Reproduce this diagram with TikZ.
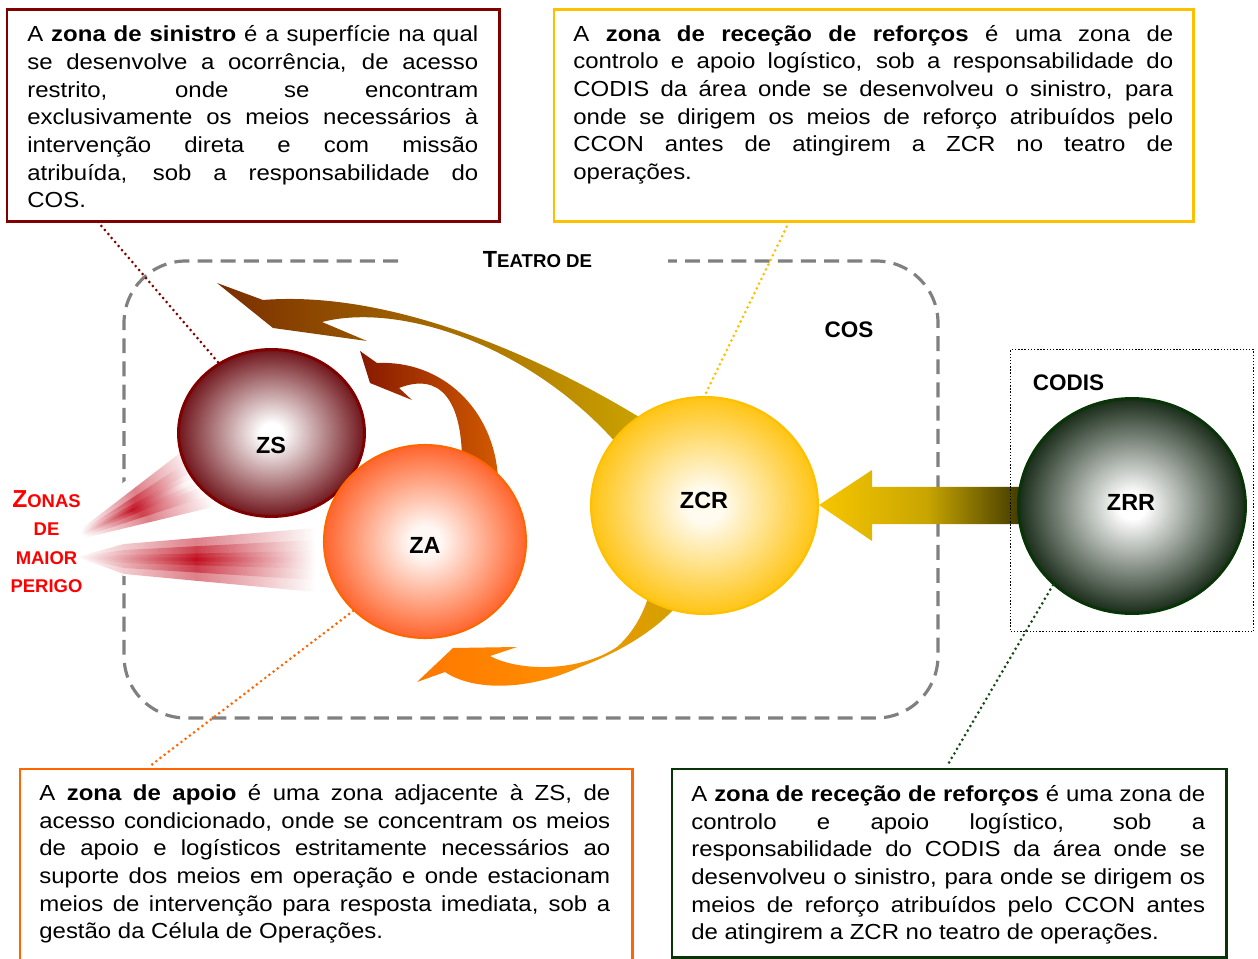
\documentclass[tikz,border=0pt]{standalone}
\usepackage{fontspec}
\setmainfont{Liberation Sans}
\newfontfamily\bodyfont[FakeStretch=1.1]{Liberation Sans}
\usetikzlibrary{shapes.geometric}

\definecolor{zsred}{RGB}{128,0,0}
\definecolor{zsedge}{RGB}{112,22,28}
\definecolor{zaorange}{RGB}{255,102,0}
\definecolor{zaedge}{RGB}{255,100,45}
\definecolor{zaheart}{RGB}{255,247,243}
\definecolor{zcryellow}{RGB}{255,192,0}
\definecolor{zcredge}{RGB}{255,196,20}
\definecolor{zcrheart}{RGB}{255,251,238}
\definecolor{zrrgreen}{RGB}{8,52,8}
\definecolor{zrredge}{RGB}{26,44,26}
\definecolor{theatregrey}{RGB}{128,128,128}
\definecolor{dangerred}{RGB}{255,0,0}
\definecolor{wedgered}{RGB}{190,0,18}
\definecolor{olivebrown}{RGB}{205,165,0}
\definecolor{bigtip}{RGB}{122,45,0}
\definecolor{smalltip}{RGB}{135,25,0}
\definecolor{smalltail}{RGB}{210,90,0}
\definecolor{loworange}{RGB}{255,120,0}
\definecolor{loworangeb}{RGB}{255,140,0}
\definecolor{flowyellow}{RGB}{247,198,0}
\definecolor{flowmid}{RGB}{200,165,0}
\definecolor{flowdark}{RGB}{45,42,0}
\definecolor{leadgreen}{RGB}{20,75,20}

\pgfdeclareradialshading{zsball}{\pgfpoint{0bp}{0bp}}{color(0bp)=(white); color(3bp)=(white); color(25bp)=(zsedge); color(50bp)=(zsedge)}
\pgfdeclareradialshading{zaball}{\pgfpoint{0bp}{0bp}}{color(0bp)=(zaheart); color(4bp)=(zaheart); color(25bp)=(zaedge); color(50bp)=(zaedge)}
\pgfdeclareradialshading{zcrball}{\pgfpoint{0bp}{0bp}}{color(0bp)=(zcrheart); color(4bp)=(zcrheart); color(25bp)=(zcredge); color(50bp)=(zcredge)}
\pgfdeclareradialshading{zrrball}{\pgfpoint{0bp}{0bp}}{color(0bp)=(white); color(3bp)=(white); color(25bp)=(zrredge); color(50bp)=(zrredge)}

\newcommand{\topstrut}{\rule{0pt}{12pt}}
\hyphenpenalty=10000
\exhyphenpenalty=10000
\tolerance=10000
\setlength{\parindent}{0pt}

\begin{document}
\begin{tikzpicture}[x=0.02cm, y=-0.02cm,
  zone/.style={ellipse, shade, inner sep=0pt},
  zonename/.style={font=\fontsize{13.3}{13.3}\selectfont\bfseries},
  tag/.style={font=\fontsize{12.8}{12.8}\selectfont\bfseries},
  frame/.style={rectangle, draw, line width=1.7pt, anchor=north west, inner sep=0pt},
  blurb/.style={anchor=north west, inner sep=0pt, align=justify, font=\bodyfont\fontsize{12.4}{15.75}\selectfont},
  leader/.style={line width=1.7pt, dash pattern=on 0pt off 3pt, line cap=round},
  dangerwedge/.style={left color=white, right color=white, middle color=wedgered, fill opacity=0.5}]
  \useasboundingbox (0,0) rectangle (1258,959);
  % teatro de operacoes
  \draw[theatregrey, line width=1.8pt, dash pattern=on 8.5pt off 4.7pt, rounded corners=1.24cm]
    (398,261) -- (124,261) -- (124,718) -- (938,718) -- (938,261) -- (668,261);
  \node[font=\fontsize{10.6}{10.6}\selectfont\bfseries] (teatro) at (537.5,259.6) {{\fontsize{13.3}{13.3}\selectfont T}EATRO DE};
  \node[tag] (cos) at (849,330) {COS};
  %
  \fill[white] (58,546) -- (124,482) -- (183,449) -- (214,508) -- (124,543) -- cycle;
  \fill[white] (75,557) -- (124,544) -- (320,526) -- (320,594) -- (124,576) -- cycle;
  \foreach \w in {32,20,9,3}
    \shade[dangerwedge, shading angle=115.5] (63,543) -- ++(135.5+0.431*\w, -64.7+0.903*\w) -- ++(-0.862*\w, -1.806*\w) -- cycle;
  \foreach \w/\v in {32/15, 20/9, 9/4, 3/1.5}
    \shade[dangerwedge] (77,557) -- (124,559-\v) -- (315,560-\w) -- (315,560+\w) -- (124,559+\v) -- cycle;
  %
  \shade[left color=bigtip, right color=olivebrown] (217,283) -- (273,328) -- (367,341) -- (322,322)
    .. controls (400,302) and (530,345) .. (618,445) -- (652,425)
    .. controls (540,355) and (390,290) .. (263,300) -- cycle;
  \shade[left color=smalltip, right color=smalltail] (360,351) -- (370,383) -- (412,400) -- (399,388)
    .. controls (440,372) and (462,400) .. (462,462) -- (498,478)
    .. controls (494,409) and (442,360) .. (377,363) -- cycle;
  \shade[left color=loworange, right color=olivebrown, middle color=loworangeb] (417,682) -- (453,648) -- (517,647) -- (490,656)
    .. controls (520,672) and (580,672) .. (617,647) .. controls (633,633) and (645,612) .. (650,590) -- (686,594)
    .. controls (665,625) and (625,650) .. (580,667) .. controls (530,690) and (475,692) .. (445,672) -- cycle;
  \shade[left color=flowyellow, right color=flowdark, middle color=flowmid] (819,505) -- (872,470) -- (872,487)
    -- (1035,487) -- (1035,524) -- (872,524) -- (872,541) -- cycle;
  %
  \node[zone, shading=zsball, draw=zsred, line width=1.7pt, minimum width=3.72cm, minimum height=3.34cm] (zs) at (271.5,433) {};
  \node[zone, shading=zaball, draw=zaorange, line width=1.2pt, minimum width=4.04cm, minimum height=3.86cm] (za) at (425,541.5) {};
  \node[zone, shading=zcrball, draw=zcryellow, line width=1.2pt, minimum width=4.54cm, minimum height=4.34cm] (zcr) at (704.5,505.5) {};
  \node[zone, shading=zrrball, draw=zrrgreen, line width=1.7pt, minimum width=4.54cm, minimum height=4.3cm] (zrr) at (1132,506) {};
  \node[zonename] (zslabel) at (271,445) {ZS};
  \node[zonename] (zalabel) at (425,545) {ZA};
  \node[zonename] (zcrlabel) at (704,500) {ZCR};
  \node[zonename] (zrrlabel) at (1131,502) {ZRR};
  \node[rectangle, draw, line width=0.8pt, dash pattern=on 0.8pt off 1pt, anchor=north west, inner sep=0pt,
    minimum width=4.86cm, minimum height=5.64cm] (codisframe) at (1010,349) {};
  \node[tag] (codis) at (1068.5,383) {CODIS};
  \node[align=center, text=dangerred, font=\fontsize{10.5}{16.1}\selectfont\bfseries] (perigo) at (46.5,541.7)
    {{\fontsize{14}{16.1}\selectfont Z}ONAS\\DE\\MAIOR\\PERIGO};
  % caixas de texto
  \node[frame, draw=zsred, minimum width=9.86cm, minimum height=4.24cm] (zsframe) at (5.5,8.5) {};
  \node[frame, draw=zcryellow, minimum width=12.8cm, minimum height=4.24cm] (zcrframe) at (552.5,8.5) {};
  \node[frame, draw=zaorange, minimum width=12.26cm, minimum height=4.6cm] (zaframe) at (18.5,767.5) {};
  \node[frame, draw=zrrgreen, minimum width=11.1cm, minimum height=3.78cm] (zrrframe) at (670.5,767.5) {};
  \node[blurb, text width=9.02cm] (zstext) at (27,20.4) {\topstrut A \textbf{zona de sinistro} é a superfície na qual\linebreak
    se desenvolve a ocorrência, de acesso\linebreak
    restrito, onde se encontram\linebreak
    exclusivamente os meios necessários à\linebreak
    intervenção direta e com missão\linebreak
    atribuída, sob a responsabilidade do\linebreak
    COS.};
  \node[blurb, text width=12cm] (zcrtext) at (573,19.6) {\topstrut A \textbf{zona de receção de reforços} é uma zona de\linebreak
    controlo e apoio logístico, sob a responsabilidade do\linebreak
    CODIS da área onde se desenvolveu o sinistro, para\linebreak
    onde se dirigem os meios de reforço atribuídos pelo\linebreak
    CCON antes de atingirem a ZCR no teatro de\linebreak
    operações.};
  \node[blurb, text width=11.42cm] (zatext) at (39,778.9) {\topstrut A \textbf{zona de apoio} é uma zona adjacente à ZS, de\linebreak
    acesso condicionado, onde se concentram os meios\linebreak
    de apoio e logísticos estritamente necessários ao\linebreak
    suporte dos meios em operação e onde estacionam\linebreak
    meios de intervenção para resposta imediata, sob a\linebreak
    gestão da Célula de Operações.};
  \node[blurb, text width=10.28cm] (zrrtext) at (691,779.9) {\topstrut A \textbf{zona de receção de reforços} é uma zona de\linebreak
    controlo e apoio logístico, sob a\linebreak
    responsabilidade do CODIS da área onde se\linebreak
    desenvolveu o sinistro, para onde se dirigem os\linebreak
    meios de reforço atribuídos pelo CCON antes\linebreak
    de atingirem a ZCR no teatro de operações.};
  % ligacoes
  \coordinate (zstail) at (98,222);
  \coordinate (zcrtail) at (789,222);
  \coordinate (zatail) at (150,766);
  \coordinate (zrrtail) at (947,766);
  \draw[leader, zsred] (zstail) -- (zs.127);
  \draw[leader, zcryellow] (zcrtail) -- (zcr.north);
  \draw[leader, zaorange] (za.224) -- (zatail);
  \draw[leader, leadgreen] (zrr.225) -- (zrrtail);
\end{tikzpicture}
\end{document}
